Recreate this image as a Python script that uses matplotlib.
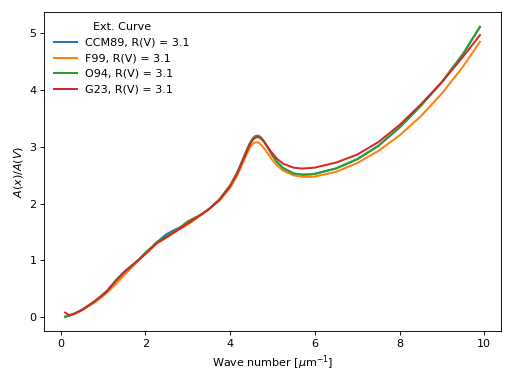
import numpy as np
import matplotlib
matplotlib.use('Agg')
import matplotlib.pyplot as plt

# wave number grid [1/micron]
wavenum = [0.1, 0.2, 0.3, 0.5, 0.8, 1.0, 1.1, 1.3, 1.5, 1.82,
           2.0, 2.27, 2.5, 2.75, 3.0, 3.3, 3.5, 3.75, 4.0, 4.15,
           4.2, 4.3, 4.35, 4.4, 4.45, 4.5, 4.55, 4.6, 4.65, 4.7,
           4.75, 4.8, 4.85, 4.9, 5.0, 5.1, 5.25, 5.5, 5.7, 5.9,
           6.0, 6.5, 7.0, 7.5, 8.0, 8.5, 9.0, 9.5, 9.9]

# A(x)/A(V) for each curve, R(V) = 3.1
ccm89 = [0.010, 0.030, 0.058, 0.132, 0.282, 0.404, 0.471, 0.643, 0.802, 1.000,
         1.122, 1.323, 1.464, 1.561, 1.643, 1.802, 1.905, 2.072, 2.315, 2.521,
         2.601, 2.775, 2.865, 2.953, 3.035, 3.104, 3.156, 3.186, 3.193, 3.177,
         3.141, 3.090, 3.031, 2.967, 2.843, 2.737, 2.623, 2.529, 2.508, 2.513,
         2.522, 2.617, 2.779, 3.014, 3.336, 3.716, 4.134, 4.629, 5.106]
f99 = [0.015, 0.035, 0.060, 0.125, 0.262, 0.375, 0.440, 0.585, 0.745, 0.985,
       1.115, 1.300, 1.405, 1.525, 1.630, 1.790, 1.906, 2.052, 2.276, 2.471,
       2.548, 2.715, 2.800, 2.882, 2.955, 3.015, 3.056, 3.076, 3.075, 3.055,
       3.019, 2.973, 2.920, 2.866, 2.762, 2.675, 2.579, 2.495, 2.471, 2.468,
       2.475, 2.558, 2.711, 2.924, 3.197, 3.532, 3.934, 4.408, 4.842]
o94 = [0.010, 0.030, 0.058, 0.132, 0.282, 0.404, 0.471, 0.654, 0.799, 1.000,
       1.138, 1.321, 1.426, 1.545, 1.688, 1.802, 1.905, 2.072, 2.315, 2.521,
       2.601, 2.775, 2.865, 2.953, 3.035, 3.104, 3.156, 3.186, 3.193, 3.177,
       3.141, 3.090, 3.031, 2.967, 2.843, 2.737, 2.623, 2.529, 2.508, 2.513,
       2.522, 2.617, 2.779, 3.014, 3.336, 3.716, 4.134, 4.629, 5.106]
g23 = [0.085, 0.040, 0.058, 0.130, 0.280, 0.400, 0.468, 0.640, 0.795, 1.000,
       1.118, 1.305, 1.410, 1.530, 1.650, 1.800, 1.900, 2.070, 2.310, 2.505,
       2.585, 2.755, 2.845, 2.930, 3.010, 3.080, 3.130, 3.160, 3.168, 3.155,
       3.125, 3.085, 3.035, 2.980, 2.880, 2.790, 2.700, 2.630, 2.615, 2.625,
       2.632, 2.720, 2.860, 3.080, 3.380, 3.740, 4.134, 4.580, 4.960]

curves = [('CCM89, R(V) = 3.1', ccm89),
          ('F99, R(V) = 3.1', f99),
          ('O94, R(V) = 3.1', o94),
          ('G23, R(V) = 3.1', g23)]

fig, ax = plt.subplots(figsize=(6.4, 4.8), dpi=80)

for label, vals in curves:
    ax.plot(wavenum, vals, lw=1.8, label=label)

ax.set_xlabel(r'Wave number [$\mu$m$^{-1}$]')
ax.set_ylabel(r'$A(x)/A(V)$')
ax.legend(title='Ext. Curve', loc='upper left', frameon=False)

fig.subplots_adjust(left=44.3 / 512, right=500.7 / 512,
                    top=1 - 12.3 / 384, bottom=1 - 331.3 / 384)
fig.savefig('out.png')
